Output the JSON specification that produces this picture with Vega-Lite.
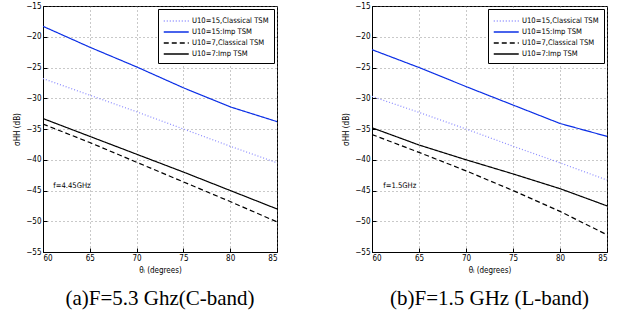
{
  "$schema": "https://vega.github.io/schema/vega-lite/v6.json",
  "background": "white",
  "padding": {"left": 13, "top": 1, "right": 0, "bottom": 0},
  "spacing": 64,
  "config": {
    "view": {"stroke": "black", "strokeWidth": 1},
    "axis": {
      "labelFont": "DejaVu Sans Condensed, Liberation Sans",
      "labelFontSize": 8,
      "labelColor": "black",
      "labelOverlap": false,
      "titleFont": "DejaVu Sans Condensed, Liberation Sans",
      "titleFontSize": 8,
      "titleFontWeight": "normal",
      "titleColor": "black",
      "domainColor": "black",
      "tickColor": "black",
      "tickSize": -4,
      "labelPadding": 6,
      "gridColor": "#777",
      "gridDash": [1, 3],
      "gridWidth": 0.8,
      "gridOpacity": 1
    },
    "legend": {
      "labelFont": "DejaVu Sans Condensed, Liberation Sans",
      "labelFontSize": 7.6,
      "labelColor": "black"
    }
  },
  "datasets": {
    "a": [
      {"theta": 60, "sigma": -26.8, "series": "U10=15,Classical TSM"},
      {"theta": 65, "sigma": -29.5, "series": "U10=15,Classical TSM"},
      {"theta": 70, "sigma": -32.2, "series": "U10=15,Classical TSM"},
      {"theta": 75, "sigma": -35.0, "series": "U10=15,Classical TSM"},
      {"theta": 80, "sigma": -37.8, "series": "U10=15,Classical TSM"},
      {"theta": 85, "sigma": -40.5, "series": "U10=15,Classical TSM"},
      {"theta": 60, "sigma": -18.3, "series": "U10=15:Imp TSM"},
      {"theta": 65, "sigma": -21.7, "series": "U10=15:Imp TSM"},
      {"theta": 70, "sigma": -24.9, "series": "U10=15:Imp TSM"},
      {"theta": 75, "sigma": -28.3, "series": "U10=15:Imp TSM"},
      {"theta": 80, "sigma": -31.4, "series": "U10=15:Imp TSM"},
      {"theta": 85, "sigma": -33.8, "series": "U10=15:Imp TSM"},
      {"theta": 60, "sigma": -34.2, "series": "U10=7,Classical TSM"},
      {"theta": 65, "sigma": -37.2, "series": "U10=7,Classical TSM"},
      {"theta": 70, "sigma": -40.4, "series": "U10=7,Classical TSM"},
      {"theta": 75, "sigma": -43.6, "series": "U10=7,Classical TSM"},
      {"theta": 80, "sigma": -46.8, "series": "U10=7,Classical TSM"},
      {"theta": 85, "sigma": -50.1, "series": "U10=7,Classical TSM"},
      {"theta": 60, "sigma": -33.3, "series": "U10=7:Imp TSM"},
      {"theta": 65, "sigma": -36.2, "series": "U10=7:Imp TSM"},
      {"theta": 70, "sigma": -39.1, "series": "U10=7:Imp TSM"},
      {"theta": 75, "sigma": -42.0, "series": "U10=7:Imp TSM"},
      {"theta": 80, "sigma": -45.0, "series": "U10=7:Imp TSM"},
      {"theta": 85, "sigma": -48.0, "series": "U10=7:Imp TSM"}
    ],
    "b": [
      {"theta": 60, "sigma": -29.7, "series": "U10=15,Classical TSM"},
      {"theta": 65, "sigma": -32.3, "series": "U10=15,Classical TSM"},
      {"theta": 70, "sigma": -35.0, "series": "U10=15,Classical TSM"},
      {"theta": 75, "sigma": -37.8, "series": "U10=15,Classical TSM"},
      {"theta": 80, "sigma": -40.5, "series": "U10=15,Classical TSM"},
      {"theta": 85, "sigma": -43.3, "series": "U10=15,Classical TSM"},
      {"theta": 60, "sigma": -22.1, "series": "U10=15:Imp TSM"},
      {"theta": 65, "sigma": -25.0, "series": "U10=15:Imp TSM"},
      {"theta": 70, "sigma": -28.1, "series": "U10=15:Imp TSM"},
      {"theta": 75, "sigma": -31.1, "series": "U10=15:Imp TSM"},
      {"theta": 80, "sigma": -34.1, "series": "U10=15:Imp TSM"},
      {"theta": 85, "sigma": -36.2, "series": "U10=15:Imp TSM"},
      {"theta": 60, "sigma": -35.9, "series": "U10=7,Classical TSM"},
      {"theta": 65, "sigma": -38.8, "series": "U10=7,Classical TSM"},
      {"theta": 70, "sigma": -41.8, "series": "U10=7,Classical TSM"},
      {"theta": 75, "sigma": -45.0, "series": "U10=7,Classical TSM"},
      {"theta": 80, "sigma": -48.4, "series": "U10=7,Classical TSM"},
      {"theta": 85, "sigma": -52.2, "series": "U10=7,Classical TSM"},
      {"theta": 60, "sigma": -34.8, "series": "U10=7:Imp TSM"},
      {"theta": 65, "sigma": -37.6, "series": "U10=7:Imp TSM"},
      {"theta": 70, "sigma": -40.0, "series": "U10=7:Imp TSM"},
      {"theta": 75, "sigma": -42.3, "series": "U10=7:Imp TSM"},
      {"theta": 80, "sigma": -44.7, "series": "U10=7:Imp TSM"},
      {"theta": 85, "sigma": -47.5, "series": "U10=7:Imp TSM"}
    ],
    "noteA": [{"theta": 61.1, "sigma": -44.2, "label": "f=4.45GHz"}],
    "noteB": [{"theta": 61.2, "sigma": -44.2, "label": "f=1.5GHz"}]
  },
  "hconcat": [
    {
      "width": 234,
      "height": 246,
      "title": {"text": "(a)F=5.3 Ghz(C-band)", "orient": "bottom", "font": "Liberation Serif", "fontSize": 21, "fontWeight": "normal", "color": "black", "offset": 14},
      "encoding": {
        "x": {"field": "theta", "type": "quantitative", "scale": {"domain": [60, 85], "nice": false}, "axis": {"values": [60, 65, 70, 75, 80, 85], "labelOverlap": false, "title": "θᵢ (degrees)", "titlePadding": 4}},
        "y": {"field": "sigma", "type": "quantitative", "scale": {"domain": [-55, -15], "nice": false}, "axis": {"values": [-55, -50, -45, -40, -35, -30, -25, -20, -15], "labelOverlap": false, "title": "σHH (dB)", "titlePadding": 4}}
      },
      "layer": [
        {
          "data": {"name": "a"},
          "mark": {"type": "line", "strokeWidth": 1.2, "clip": true},
          "encoding": {
            "color": {"field": "series", "type": "nominal", "scale": {"domain": ["U10=15,Classical TSM", "U10=15:Imp TSM", "U10=7,Classical TSM", "U10=7:Imp TSM"], "range": ["#8c8cff", "#0a2ee6", "black", "black"]},
              "legend": {"title": null, "orient": "top-right", "offset": 3, "strokeColor": "black", "fillColor": "white", "padding": 5, "symbolType": "M-1,0H3", "symbolSize": 156, "symbolStrokeWidth": 1.3, "rowPadding": 0, "labelOffset": 15}},
            "strokeDash": {"field": "series", "type": "nominal", "scale": {"domain": ["U10=15,Classical TSM", "U10=15:Imp TSM", "U10=7,Classical TSM", "U10=7:Imp TSM"], "range": [[1, 2], [1, 0], [5, 3], [1, 0]]},
              "legend": {"title": null, "orient": "top-right", "offset": 3, "strokeColor": "black", "fillColor": "white", "padding": 5, "symbolType": "M-1,0H3", "symbolSize": 156, "symbolStrokeWidth": 1.3, "rowPadding": 0, "labelOffset": 15}}
          }
        },
        {
          "data": {"name": "noteA"},
          "mark": {"type": "text", "align": "left", "baseline": "middle", "font": "DejaVu Sans Condensed, Liberation Sans", "fontSize": 7.6, "color": "black"},
          "encoding": {
            "text": {"field": "label"}
          }
        }
      ]
    },
    {
      "width": 235,
      "height": 246,
      "title": {"text": "(b)F=1.5 GHz (L-band)", "orient": "bottom", "font": "Liberation Serif", "fontSize": 21, "fontWeight": "normal", "color": "black", "offset": 14},
      "encoding": {
        "x": {"field": "theta", "type": "quantitative", "scale": {"domain": [60, 85], "nice": false}, "axis": {"values": [60, 65, 70, 75, 80, 85], "labelOverlap": false, "title": "θᵢ (degrees)", "titlePadding": 4}},
        "y": {"field": "sigma", "type": "quantitative", "scale": {"domain": [-55, -15], "nice": false}, "axis": {"values": [-55, -50, -45, -40, -35, -30, -25, -20, -15], "labelOverlap": false, "title": "σHH (dB)", "titlePadding": 4}}
      },
      "layer": [
        {
          "data": {"name": "b"},
          "mark": {"type": "line", "strokeWidth": 1.2, "clip": true},
          "encoding": {
            "color": {"field": "series", "type": "nominal", "scale": {"domain": ["U10=15,Classical TSM", "U10=15:Imp TSM", "U10=7,Classical TSM", "U10=7:Imp TSM"], "range": ["#8c8cff", "#0a2ee6", "black", "black"]},
              "legend": {"title": null, "orient": "top-right", "offset": 3, "strokeColor": "black", "fillColor": "white", "padding": 5, "symbolType": "M-1,0H3", "symbolSize": 156, "symbolStrokeWidth": 1.3, "rowPadding": 0, "labelOffset": 15}},
            "strokeDash": {"field": "series", "type": "nominal", "scale": {"domain": ["U10=15,Classical TSM", "U10=15:Imp TSM", "U10=7,Classical TSM", "U10=7:Imp TSM"], "range": [[1, 2], [1, 0], [5, 3], [1, 0]]},
              "legend": {"title": null, "orient": "top-right", "offset": 3, "strokeColor": "black", "fillColor": "white", "padding": 5, "symbolType": "M-1,0H3", "symbolSize": 156, "symbolStrokeWidth": 1.3, "rowPadding": 0, "labelOffset": 15}}
          }
        },
        {
          "data": {"name": "noteB"},
          "mark": {"type": "text", "align": "left", "baseline": "middle", "font": "DejaVu Sans Condensed, Liberation Sans", "fontSize": 7.6, "color": "black"},
          "encoding": {
            "text": {"field": "label"}
          }
        }
      ]
    }
  ],
  "resolve": {"scale": {"color": "independent", "strokeDash": "independent"}, "legend": {"color": "independent", "strokeDash": "independent"}}
}
